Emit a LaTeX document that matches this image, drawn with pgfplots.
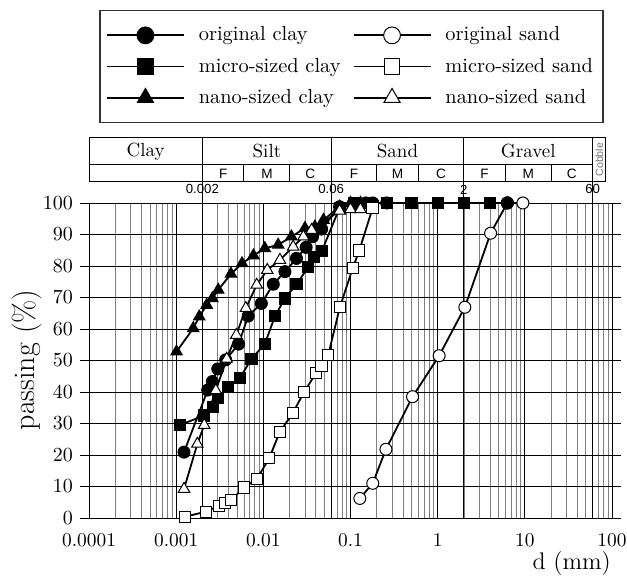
\documentclass[border=0pt]{standalone}
\usepackage{fontspec}
\newfontfamily\arial{Liberation Sans}
\usepackage{pgfplots}
\pgfplotsset{compat=1.18}

\pgfplotsset{
  ser/.style={black, line width=0.9pt, mark size=3pt,
    every mark/.append style={line width=0.5pt, solid}},
  open/.style={every mark/.append style={fill=white}},
}

\begin{document}
\begin{tikzpicture}
\begin{axis}[
  name=ax,
  xmode=log,
  width=261.5pt, height=157.5pt, scale only axis,
  xmin=1e-4, xmax=100, ymin=0, ymax=100,
  xtick={1e-4,1e-3,1e-2,1e-1,1,10,100},
  xticklabels={0.0001,0.001,0.01,0.1,1,10,100},
  ytick={0,10,...,100},
  grid=both,
  major grid style={black, line width=0.4pt},
  minor grid style={black!50, line width=0.4pt},
  x tick style={draw=none},
  y tick style={black, line width=0.4pt},
  tick align=outside, major tick length=4.5pt,
  tick label style={font=\fontsize{9.7}{11}\selectfont},
  xlabel={d (mm)},
  xlabel style={at={(axis description cs:0.923,-0.145)}, anchor=center, font=\fontsize{12}{14}\selectfont},
  ylabel={passing (\%)},
  ylabel style={at={(axis description cs:-0.1185,0.502)}, anchor=center, font=\fontsize{15}{17}\selectfont},
  clip=false,
  legend columns=2,
  legend style={at={(axis description cs:0.502,1.612)}, anchor=north, draw=black!80, line width=0.6pt,
    font=\fontsize{10.2}{12}\selectfont, inner xsep=3pt, inner ysep=6pt, row sep=3pt,
    /tikz/every odd column/.append style={column sep=5pt},
    /tikz/every even column/.append style={column sep=4pt}, cells={anchor=west}},
  legend image code/.code={
    \draw[#1, line width=0.9pt, every mark/.append style={scale=1.4, line width=0.5pt}, mark indices={2}]
      plot coordinates {(0pt,0pt) (19.25pt,0pt) (38.5pt,0pt)};
  },
]

% boundary lines of the classification
\draw[line width=0.5pt] (axis cs:0.002,0) -- (axis cs:0.002,120.8);
\draw[line width=0.5pt] (axis cs:0.06,0) -- (axis cs:0.06,120.8);
\draw[line width=0.5pt] (axis cs:2,0) -- (axis cs:2,120.8);
\draw[line width=0.5pt] (axis cs:60,0) -- (axis cs:60,120.8);

\addplot[ser, mark=*] coordinates {
  (0.00123,20.9) (0.0023,40.6) (0.0026,43.3) (0.003,47.3) (0.0037,50.2)
  (0.0052,55.2) (0.0067,64.1) (0.0095,68.1) (0.013,74.2) (0.0177,78.2)
  (0.024,82.4) (0.031,85.9) (0.0367,89.3) (0.0466,91.7) (0.075,98.8)
  (0.11,99.6) (0.15,100) (0.18,100) (0.26,100) (6.3,100)
};
\addlegendentry{original clay}

\addplot[ser, open, mark=*] coordinates {
  (0.128,6.2) (0.18,11) (0.255,21.8) (0.515,38.5) (1.04,51.5)
  (2.05,66.9) (4.05,90.4) (6.3,100) (9.5,100)
};
\addlegendentry{original sand}

\addplot[ser, mark=square*, mark size=2.8pt] coordinates {
  (0.0011,29.5) (0.0021,32.5) (0.00266,35.3) (0.00304,38) (0.0039,41.7)
  (0.0054,44.5) (0.0073,50.5) (0.0104,55.2) (0.0136,64.1) (0.0177,69.7)
  (0.024,74.2) (0.0327,79.6) (0.038,82.8) (0.047,84.8) (0.075,98.5)
  (0.11,100) (0.26,100) (0.5,100) (1,100) (2,100) (4,100)
};
\addlegendentry{micro-sized clay}

\addplot[ser, open, mark=square*, mark size=2.8pt] coordinates {
  (0.00126,0.4) (0.0022,2) (0.0031,3.9) (0.0036,4.7) (0.0043,5.7)
  (0.006,9.7) (0.0084,12.3) (0.0117,19) (0.0155,27.4) (0.0217,33.2)
  (0.0292,39.9) (0.040,45.9) (0.0466,48.3) (0.0555,51.7) (0.0755,66.9)
  (0.106,79.3) (0.126,84.9) (0.179,98.3)
};
\addlegendentry{micro-sized sand}

\addplot[ser, mark=triangle*, mark size=3.3pt] coordinates {
  (0.00101,52.8) (0.00157,60.2) (0.00184,63.9) (0.00224,67.6) (0.0026,69.7)
  (0.00304,72.4) (0.00425,77.5) (0.0057,80.8) (0.0077,83.3) (0.0104,85.6)
  (0.0148,86.7) (0.021,89.3) (0.030,92) (0.039,92.5) (0.049,94.6)
  (0.075,98.8) (0.1,100) (0.13,100)
};
\addlegendentry{nano-sized clay}

\addplot[ser, open, mark=triangle*, mark size=3.3pt] coordinates {
  (0.00123,9.2) (0.00175,23.5) (0.0021,29.5) (0.00285,40.5) (0.0038,50.5)
  (0.0049,58.1) (0.0063,66.6) (0.0084,74) (0.0111,78.7) (0.0155,81.9)
  (0.022,86.1) (0.0288,89.3) (0.0358,91.4) (0.075,97.5) (0.1,98) (0.13,98)
};
\addlegendentry{nano-sized sand}

% filled point of the clay at 6.3 mm lies over the sand point
\addplot[ser, mark=*, forget plot] coordinates {(6.3,100)};

% classification table
\draw[line width=0.5pt] (axis cs:1e-4,106.7) rectangle (axis cs:85,120.8);
\draw[line width=0.5pt] (axis cs:1e-4,112.1) -- (axis cs:60,112.1);
\draw[line width=0.5pt] (axis cs:0.006,106.7) -- (axis cs:0.006,112.1);
\draw[line width=0.5pt] (axis cs:0.02,106.7) -- (axis cs:0.02,112.1);
\draw[line width=0.5pt] (axis cs:0.2,106.7) -- (axis cs:0.2,112.1);
\draw[line width=0.5pt] (axis cs:0.6,106.7) -- (axis cs:0.6,112.1);
\draw[line width=0.5pt] (axis cs:6,106.7) -- (axis cs:6,112.1);
\draw[line width=0.5pt] (axis cs:20,106.7) -- (axis cs:20,112.1);

\node[font=\fontsize{9.5}{11}\selectfont] at (axis cs:4.47e-4,116.4) {Clay};
\node[font=\fontsize{9.5}{11}\selectfont] at (axis cs:0.011,116.4) {Silt};
\node[font=\fontsize{9.5}{11}\selectfont] at (axis cs:0.346,116.4) {Sand};
\node[font=\fontsize{9.5}{11}\selectfont] at (axis cs:10.95,116.4) {Gravel};
\node[rotate=90, text=black!55, font=\arial\fontsize{5.3}{6}\selectfont] at (axis cs:71.4,113.75) {Cobble};

\node[font=\arial\fontsize{6.8}{8}\selectfont] at (axis cs:0.00346,109.4) {F};
\node[font=\arial\fontsize{6.8}{8}\selectfont] at (axis cs:0.011,109.4) {M};
\node[font=\arial\fontsize{6.8}{8}\selectfont] at (axis cs:0.0346,109.4) {C};
\node[font=\arial\fontsize{6.8}{8}\selectfont] at (axis cs:0.1095,109.4) {F};
\node[font=\arial\fontsize{6.8}{8}\selectfont] at (axis cs:0.346,109.4) {M};
\node[font=\arial\fontsize{6.8}{8}\selectfont] at (axis cs:1.095,109.4) {C};
\node[font=\arial\fontsize{6.8}{8}\selectfont] at (axis cs:3.46,109.4) {F};
\node[font=\arial\fontsize{6.8}{8}\selectfont] at (axis cs:10.95,109.4) {M};
\node[font=\arial\fontsize{6.8}{8}\selectfont] at (axis cs:34.6,109.4) {C};

\node[font=\arial\fontsize{6.6}{8}\selectfont] at (axis cs:0.002,104.3) {0.002};
\node[font=\arial\fontsize{6.6}{8}\selectfont] at (axis cs:0.06,104.3) {0.06};
\node[font=\arial\fontsize{6.6}{8}\selectfont] at (axis cs:2,104.3) {2};
\node[font=\arial\fontsize{6.6}{8}\selectfont] at (axis cs:60,104.3) {60};

\coordinate (bl) at (axis description cs:-0.1702,-0.1841);
\coordinate (tr) at (axis description cs:1.0287,1.6444);
\end{axis}
\pgfresetboundingbox
\path[use as bounding box] (bl) rectangle (tr);
\end{tikzpicture}
\end{document}
